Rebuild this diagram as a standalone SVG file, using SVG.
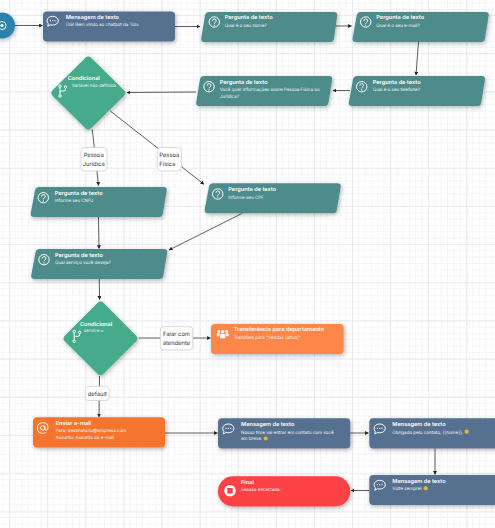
<svg xmlns="http://www.w3.org/2000/svg" width="495" height="528" viewBox="0 0 495 528">
<style>
text{font-family:Inter,"Liberation Sans",sans-serif;fill:#fff;text-rendering:geometricPrecision}
.t{font-size:5.6px;font-weight:600}
.s{font-size:4.5px;fill:#eef3f5}
.l{font-size:5.8px;fill:#333;text-anchor:middle}
.e{fill:none;stroke:#4d4d4d;stroke-width:.9;marker-end:url(#a)}
.q{fill:#4e8c8b;filter:url(#sh)}
.m{fill:#56708f;filter:url(#sh)}
.d{fill:#44ab8b;filter:url(#sh)}
.lb{fill:#fff;stroke:#cfcfcf;stroke-width:.8}
.i{fill:none;stroke:#fff;stroke-width:1}
.w{fill:#fff}
.em{fill:#e6b830}
</style>
<defs>
<filter id="sh" x="-15%" y="-25%" width="130%" height="160%"><feDropShadow dx="1" dy="1.5" stdDeviation="2" flood-color="#000" flood-opacity=".3"/></filter>
<pattern id="g1" patternUnits="userSpaceOnUse" x="2.5" y="2.7" width="6.35" height="6.35"><path d="M0 .5H6.35M.5 0V6.35" fill="none" stroke="#f4f5f8" stroke-width="1"/></pattern>
<pattern id="g2" patternUnits="userSpaceOnUse" x="9.2" y="14.9" width="38.1" height="38.2"><path d="M0 .5H38.1M.5 0V38.2" fill="none" stroke="#e9ebf0" stroke-width="1"/></pattern>
<marker id="a" markerUnits="userSpaceOnUse" markerWidth="5" markerHeight="5" refX="3.4" refY="2" orient="auto"><path d="M0 0L3.6 2L0 4Z" fill="#222"/></marker>
<g id="qi"><circle r="5.2" class="i"/><path d="M-1.7-1.2A1.8 1.8 0 1 1 .9.3C.3.7 0 1 0 1.7" fill="none" stroke="#fff" stroke-width="1"/><circle cy="3.2" r=".6" class="w"/></g>
<g id="ci"><path d="M-5.6-.6C-5.6-3.4-3-5-.1-5S5.6-3.4 5.6-.6 3 3.8-.1 3.8C-.9 3.8-1.6 3.7-2.2 3.5L-4.9 5-4.4 2.4C-5.2 1.500-5.6.5-5.6-.6Z" class="i"/><circle cx="-2.3" cy="-.6" r=".6" class="w"/><circle cy="-.6" r=".6" class="w"/><circle cx="2.3" cy="-.6" r=".6" class="w"/></g>
<g id="bi"><path d="M-2.5-4.5V4.5M3-3.5V-1.5Q3 0 1.5 0H-1Q-2.5 0-2.5 1.5" class="i"/><circle cx="-2.5" cy="-4.8" r="1.2" class="i" style="fill:#44ab8b"/><circle cx="3" cy="-4" r="1.2" class="i" style="fill:#44ab8b"/><circle cx="-2.5" cy="5" r="1.2" class="i" style="fill:#44ab8b"/></g>
</defs>
<rect width="495" height="528" fill="#fff"/>
<rect width="495" height="528" fill="url(#g1)"/>
<rect width="495" height="528" fill="url(#g2)"/>

<g id="connectors">
<path class="e" d="M15 25.5H42.5"/>
<path class="e" d="M175 26.5H200"/>
<path class="e" d="M335 26H351.5"/>
<path class="e" d="M418.5 42L416 75"/>
<path class="e" d="M350 90.5H333"/>
<path class="e" d="M196 92L127 92.5"/>
<path class="e" d="M92.3 129.6L98.5 185.5"/>
<path class="e" d="M110.3 111L204 184.3"/>
<path class="e" d="M98.5 217L99 248.5"/>
<path class="e" d="M242.3 213.3L169 250"/>
<path class="e" d="M99.3 279L99.5 299.5"/>
<path class="e" d="M139 338H210.5"/>
<path class="e" d="M99.5 376L99 417"/>
<path class="e" d="M165 433H217.5"/>
<path class="e" d="M350 433H368.5"/>
<path class="e" d="M435 448.5V474.5"/>
<path class="e" d="M369 490.5H351"/>
<g id="edge-labels">
<rect class="lb" x="81" y="147.5" width="26" height="23.5" rx="3.5"/><text class="l" x="93.7" y="156.7">Pessoa</text><text class="l" x="93.7" y="165.7">Jurídica</text>
<rect class="lb" x="157.3" y="147.5" width="24" height="23.5" rx="3.5"/><text class="l" x="169.3" y="156.7">Pessoa</text><text class="l" x="167.3" y="165.7">Física</text>
<rect class="lb" x="160.3" y="326.7" width="32.5" height="23.3" rx="3.5"/><text class="l" x="176.5" y="335.9">Falar com</text><text class="l" x="176.5" y="345">atendente</text>
<rect class="lb" x="85.3" y="386.3" width="24" height="14.2" rx="3.5"/><text class="l" x="97.3" y="395.5">default</text>
</g>
</g>

<g id="start"><circle cx="2" cy="25.5" r="13" fill="#2b82ad" filter="url(#sh)"/><circle cx="2" cy="25.5" r="4" fill="none" stroke="#fff" stroke-width="1"/><circle cx="2" cy="25.5" r="1.6" class="w"/></g>

<g id="msg1"><rect class="m" x="43" y="11.5" width="132" height="30" rx="4"/><use href="#ci" x="52.7" y="21.3"/><text class="t" x="65.7" y="19">Mensagem de texto</text><text class="s" x="65.7" y="26">Olá! Bem vindo ao chatbot da Tolv.</text></g>

<g id="q-nome"><path class="q" d="M205 15.5Q205.5 12 209 12H334Q337.6 12 337.2 15.5L334 38.5Q333.5 42 330 42H205Q200.7 42 201.2 38.5Z"/><use href="#qi" x="214.3" y="22"/><text class="t" x="224.7" y="19.3">Pergunta de texto</text><text class="s" x="224.7" y="26.8">Qual é o seu nome?</text></g>

<g id="q-email"><path class="q" d="M356.7 15.5Q357.2 12 360.7 12H485.5Q489.1 12 488.7 15.5L485 38.5Q484.5 42 481 42H356.3Q352 42 352.5 38.5Z"/><use href="#qi" x="365.7" y="22"/><text class="t" x="376.3" y="19.3">Pergunta de texto</text><text class="s" x="376.3" y="26.8">Qual é o seu e-mail?</text></g>

<g id="q-telefone"><path class="q" d="M353 79.5Q353.5 76 357 76H481.8Q485.4 76 485 79.5L481.3 102.5Q480.8 106 477.3 106H352.6Q348.3 106 348.8 102.5Z"/><use href="#qi" x="361.7" y="86.7"/><text class="t" x="372.7" y="83.8">Pergunta de texto</text><text class="s" x="372.7" y="91">Qual é o seu telefone?</text></g>

<g id="q-pessoa"><path class="q" d="M200 79.5Q200.5 76 204 76H329Q332.6 76 332.2 79.5L328.5 102.5Q328 106 324.5 106H200Q195.7 106 196.2 102.5Z"/><use href="#qi" x="209" y="86.7"/><text class="t" x="219.7" y="83.8">Pergunta de texto</text><text class="s" x="219.7" y="91">Você quer informações sobre Pessoa Física ou</text><text class="s" x="219.7" y="97.7">Jurídica?</text></g>

<g id="cond1"><path class="d" d="M85.5 57.8Q88.3 55 91.1 57.8L124 90.2Q126.8 93 124 95.8L91.1 128.2Q88.3 131 85.5 128.2L52.6 95.8Q49.8 93 52.6 90.2Z"/><use href="#bi" x="62.5" y="91"/><text class="t" x="67.7" y="80.4">Condicional</text><text class="s" x="71.7" y="87">Variável não definida</text></g>

<g id="q-cnpj"><path class="q" d="M35 190.5Q35.5 187 39 187H163.5Q167.1 187 166.7 190.5L162.9 213.5Q162.4 217 158.9 217H34.5Q30.2 217 30.7 213.5Z"/><use href="#qi" x="43.3" y="197.7"/><text class="t" x="54.7" y="194.8">Pergunta de texto</text><text class="s" x="54.7" y="202.4">Informe seu CNPJ</text></g>

<g id="q-cpf"><path class="q" d="M209 186.8Q209.5 183.3 213 183.3H337.5Q341.1 183.3 340.7 186.8L336.9 209.8Q336.4 213.3 332.9 213.3H208.5Q204.2 213.3 204.7 209.8Z"/><use href="#qi" x="217.7" y="194"/><text class="t" x="228.3" y="191.4">Pergunta de texto</text><text class="s" x="228.3" y="198.7">Informe seu CPF</text></g>

<g id="q-servico"><path class="q" d="M35.5 252.5Q36 249 39.5 249H164Q167.6 249 167.2 252.5L163.4 275.5Q162.9 279 159.4 279H35Q30.7 279 31.2 275.5Z"/><use href="#qi" x="44" y="259.7"/><text class="t" x="55" y="257">Pergunta de texto</text><text class="s" x="55" y="264.4">Qual serviço você deseja?</text></g>

<g id="cond2"><path class="d" d="M97.7 302.8Q100.5 300 103.3 302.8L136.2 335.7Q139 338.5 136.2 341.3L103.3 373.9Q100.5 376.7 97.7 373.9L64.8 341.3Q62 338.5 64.8 335.7Z"/><use href="#bi" x="76.7" y="336.3"/><text class="t" x="80" y="326">Condicional</text><text class="s" x="83.7" y="332.4">service =</text></g>

<g id="transfer"><rect x="211" y="324" width="132.7" height="30" rx="4" fill="#fd8649" filter="url(#sh)"/><g transform="translate(222.7 333.7)"><circle cy="-2" r="1.8" class="w"/><circle cx="-4" cy="-2.3" r="1.4" class="w"/><circle cx="4" cy="-2.3" r="1.4" class="w"/><path d="M-2.6 4.5V1.5Q-2.6 .3-1.5 .3H1.5Q2.6 .3 2.6 1.5V4.5Z" class="w"/><path d="M-3.4 2.5H-6V.5Q-6-.6-5-.6H-3ZM3.4 2.5H6V.5Q6-.6 5-.6H3Z" class="w"/></g><text class="t" x="233.7" y="331.3">Transferência para departamento</text><text class="s" x="233.7" y="338.7">Transfere para "Vendas [ativo]"</text></g>

<g id="email"><rect x="33" y="417.3" width="132" height="30.2" rx="4" fill="#f6742d" filter="url(#sh)"/><g transform="translate(42.7 428)"><circle r="2.2" class="i"/><path d="M2.2-2.2V.8Q2.2 2.3 3.6 2.3 5.3 2.3 5.3-.5 5.3-5.3 0-5.3-5.3-5.3-5.3 0-5.3 5.3 0 5.3 1.8 5.3 3 4.6" class="i"/></g><text class="t" x="55.7" y="425">Enviar e-mail</text><text class="s" x="55.7" y="432.4">Para: destinatario@empresa.com</text><text class="s" x="55.7" y="439.4">Assunto: Assunto do e-mail</text></g>

<g id="msg2"><rect class="m" x="218" y="418.3" width="132.3" height="30.2" rx="4"/><use href="#ci" x="228.3" y="429"/><text class="t" x="241" y="426.3">Mensagem de texto</text><text class="s" x="241" y="433.7">Nosso time vai entrar em contato com você</text><text class="s" x="241" y="440.4">em breve.</text><circle class="em" cx="265.7" cy="438.5" r="2.1"/></g>

<g id="msg3"><rect class="m" x="369.3" y="418.3" width="132" height="30.2" rx="4"/><use href="#ci" x="379.7" y="429"/><text class="t" x="392.3" y="426.3">Mensagem de texto</text><text class="s" x="392.3" y="433.7">Obrigado pelo contato, {{nome}}.</text><circle class="em" cx="466.7" cy="431.7" r="2.1"/></g>

<g id="msg4"><rect class="m" x="369.3" y="475" width="132" height="30" rx="4"/><use href="#ci" x="379.7" y="485.3"/><text class="t" x="392.3" y="482.7">Mensagem de texto</text><text class="s" x="392.3" y="490">Volte sempre!</text><circle class="em" cx="425.7" cy="488.3" r="2.1"/></g>

<g id="final"><rect x="218" y="476.3" width="132.3" height="30.2" rx="15" fill="#fd4245" filter="url(#sh)"/><circle cx="230" cy="490.7" r="5.8" class="w"/><rect x="227.3" y="488" width="5.4" height="5.4" fill="#fd4245"/><text class="t" x="241" y="484">Final</text><text class="s" x="241" y="491.4">Sessão encerrada.</text></g>
</svg>
